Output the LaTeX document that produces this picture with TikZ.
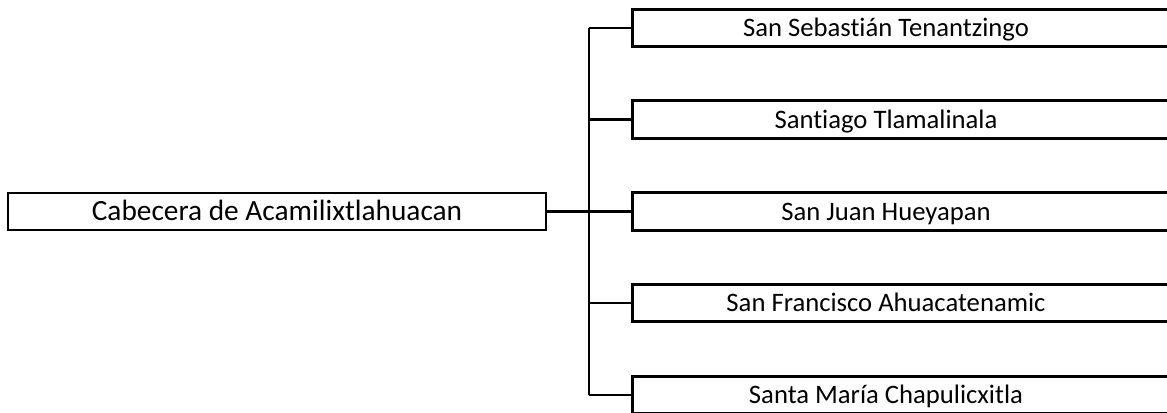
\documentclass[tikz,border=0pt]{standalone}
\usepackage{fontspec}
\setmainfont{Carlito}[Ligatures=NoCommon]
\usepackage{tikz}
\usetikzlibrary{calc}

\begin{document}
\begin{tikzpicture}[
    x=0.75pt, y=-0.75pt,
    headbox/.style={draw, line width=2pt, minimum width=538*0.75pt, minimum height=37*0.75pt, inner sep=0pt, text height=14.2pt, text depth=0pt, font=\fontsize{22}{26}\selectfont},
    villabox/.style={minimum width=506*0.75pt, minimum height=37*0.75pt, inner sep=0pt, text height=13pt, text depth=0pt, font=\fontsize{20}{24}\selectfont},
    link/.style={line width=2pt},
]
    \useasboundingbox (0,0) rectangle (1167,413);
    \clip (0,0) rectangle (1167,413);

    % Head town
    \node[headbox] (cab) at (277, 211.5) {Cabecera de Acamilixtlahuacan};

    % Communities
    \node[villabox] (v1) at (886, 28) {San Sebastián Tenantzingo};
    \node[villabox] (v2) at (886, 119.5) {Santiago Tlamalinala};
    \node[villabox] (v3) at (886, 211.5) {San Juan Hueyapan};
    \node[villabox] (v4) at (886, 303) {San Francisco Ahuacatenamic};
    \node[villabox] (v5) at (886, 395) {Santa María Chapulicxitla};

    % Boxes run past the right edge
    \foreach \v in {v1, v2, v3, v4, v5}
        \draw[link] (\v.north west) rectangle ($(\v.south east)+(60,0)$);

    % Trunk
    \coordinate (top) at (589, 28);
    \coordinate (bot) at (589, 395);
    \coordinate (mid) at (589, 211.5);
    \draw[link] (top) -- (bot);
    \draw[line width=2.4pt] (cab.east) -- (mid);

    % Branches
    \foreach \v in {v1, v2, v3, v4, v5}
        \draw[link] (\v.west) -- (\v.west -| top);
\end{tikzpicture}
\end{document}
